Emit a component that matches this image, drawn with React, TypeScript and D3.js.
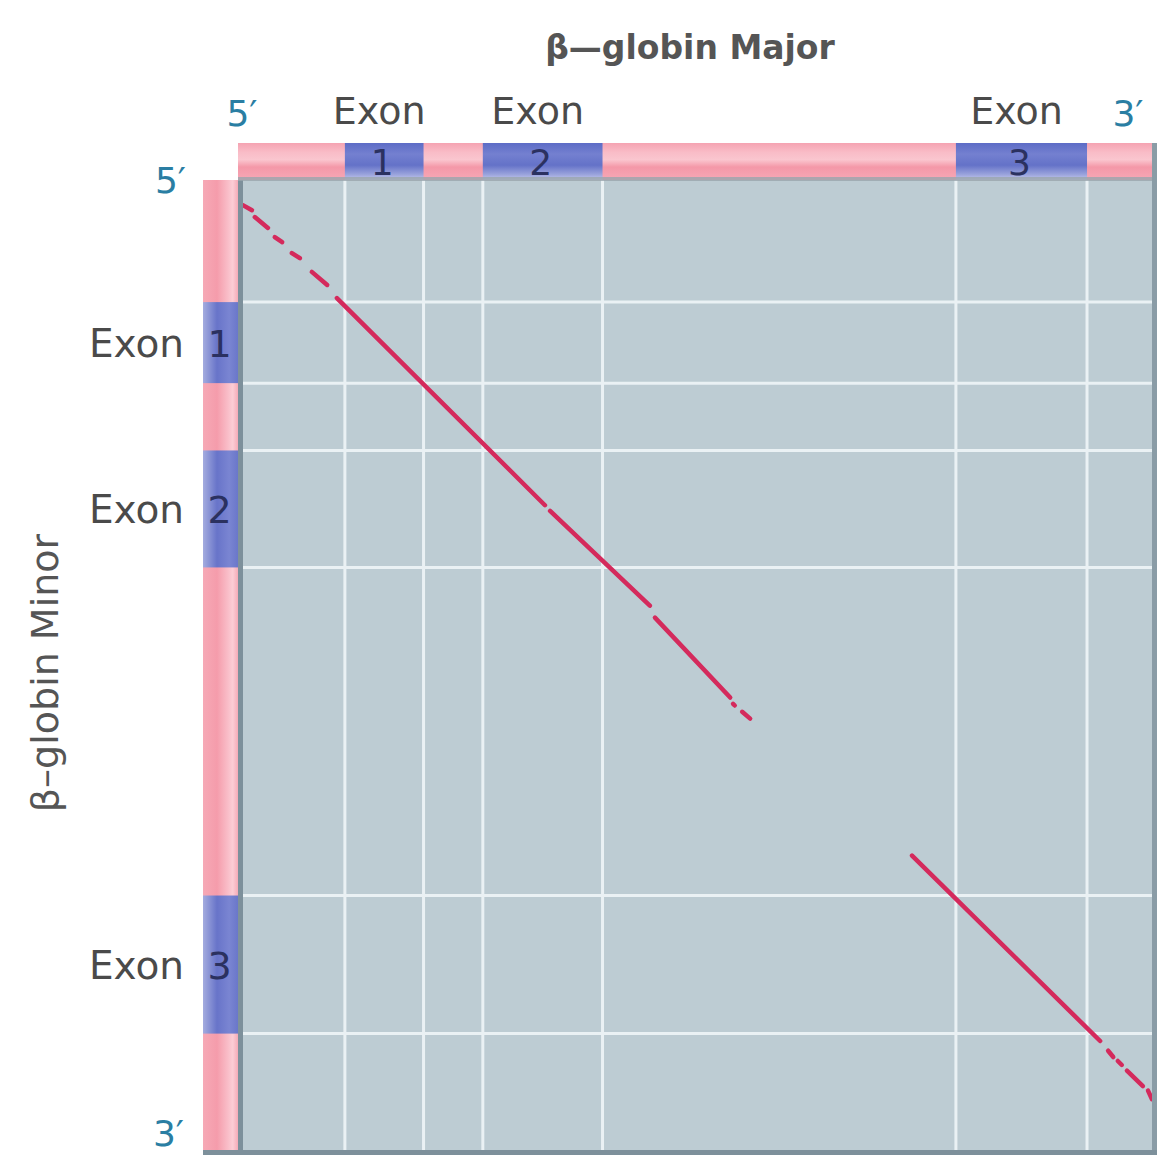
import React, { useRef, useEffect } from 'react';
import * as d3 from 'd3';

// sequence lengths (bp) of the two genes
const majorLength = 1600;
const minorLength = 1700;

// exon positions along each gene [start, end]
const majorExons: [number, number][] = [[184, 322], [426, 636], [1256, 1486]];
const minorExons: [number, number][] = [[214, 356], [474, 679], [1254, 1496]];
const exonNames = ['1', '2', '3'];

// matching stretches of the dot plot: [majorStart, minorStart, majorEnd, minorEnd]
const matches: [number, number, number, number][] = [
  [5, 44, 21, 53],
  [26, 65, 49, 84],
  [61, 100, 74, 109],
  [91, 128, 105, 137],
  [126, 161, 153, 184],
  [170, 207, 535, 570],
  [544, 580, 719, 746],
  [728, 767, 860, 907],
  [865, 918, 868, 921],
  [881, 932, 895, 944],
  [1179, 1184, 1509, 1509],
  [1523, 1526, 1532, 1537],
  [1540, 1544, 1547, 1551],
  [1556, 1561, 1584, 1588],
  [1593, 1596, 1600, 1611],
];

const App: React.FC = () => {
  const svgRef = useRef<SVGSVGElement>(null);
  const width = 1170;
  const height = 1155;

  useEffect(() => {
    document.body.style.margin = '0';
    if (!svgRef.current) return;
    const svg = d3.select(svgRef.current);
    svg.selectAll('*').remove();

    const plot = { left: 240, right: 1152, top: 180, bottom: 1150 };
    const font = '"DejaVu Sans", sans-serif';

    const x = d3.scaleLinear().domain([0, majorLength]).range([plot.left, plot.right]);
    const y = d3.scaleLinear().domain([0, minorLength]).range([plot.top, plot.bottom]);

    const defs = svg.append('defs');
    const grad = (id: string, horizontal: boolean, stops: [string, string][]) => {
      const g = defs.append('linearGradient').attr('id', id)
        .attr('x1', 0).attr('y1', 0)
        .attr('x2', horizontal ? 1 : 0).attr('y2', horizontal ? 0 : 1);
      stops.forEach(([o, c]) => g.append('stop').attr('offset', o).attr('stop-color', c));
    };
    grad('pinkV', false, [['0%', '#f5a3b2'], ['25%', '#f9bcc7'], ['45%', '#fac6cf'], ['65%', '#f498a8'], ['100%', '#f6a8b6']]);
    grad('blueV', false, [['0%', '#5d6cc6'], ['30%', '#7480d0'], ['60%', '#6472c8'], ['85%', '#9aa3dc'], ['100%', '#c4c9ec']]);
    grad('pinkH', true, [['0%', '#f6a9b6'], ['40%', '#f59cab'], ['70%', '#f9bcc7'], ['85%', '#fccdd5'], ['100%', '#f5aab7']]);
    grad('blueH', true, [['0%', '#a4acdf'], ['40%', '#6874c9'], ['75%', '#7a85d2'], ['100%', '#6a77ca']]);

    // plot background
    svg.append('rect')
      .attr('x', plot.left).attr('y', plot.top)
      .attr('width', plot.right - plot.left).attr('height', plot.bottom - plot.top)
      .attr('fill', '#bdccd3');

    // grid lines at exon boundaries
    majorExons.flat().forEach(v => {
      svg.append('line')
        .attr('x1', x(v)).attr('x2', x(v))
        .attr('y1', plot.top).attr('y2', plot.bottom)
        .attr('stroke', '#eaf1f4').attr('stroke-width', 3);
    });
    minorExons.flat().forEach(v => {
      svg.append('line')
        .attr('x1', plot.left).attr('x2', plot.right)
        .attr('y1', y(v)).attr('y2', y(v))
        .attr('stroke', '#eaf1f4').attr('stroke-width', 3);
    });

    // dot plot matches
    svg.append('g').selectAll('line')
      .data(matches)
      .enter()
      .append('line')
      .attr('x1', d => x(d[0])).attr('y1', d => y(d[1]))
      .attr('x2', d => x(d[2])).attr('y2', d => y(d[3]))
      .attr('stroke', '#d42a5c')
      .attr('stroke-width', 4.5)
      .attr('stroke-linecap', 'round');

    // frame
    svg.append('rect').attr('x', plot.left - 2).attr('y', plot.top)
      .attr('width', 5).attr('height', plot.bottom - plot.top + 5).attr('fill', '#7d909b');
    svg.append('rect').attr('x', plot.right).attr('y', 143)
      .attr('width', 5).attr('height', plot.bottom - 143 + 5).attr('fill', '#8a9ca6');
    svg.append('rect').attr('x', 203).attr('y', plot.bottom)
      .attr('width', plot.right + 5 - 203).attr('height', 5).attr('fill', '#7d909b');

    // top gene bar
    const topBar = { y0: 143, y1: 180 };
    svg.append('rect').attr('x', 238).attr('y', topBar.y0)
      .attr('width', plot.right - 238).attr('height', topBar.y1 - topBar.y0)
      .attr('fill', 'url(#pinkV)');
    majorExons.forEach(([s, e], i) => {
      svg.append('rect').attr('x', x(s)).attr('y', topBar.y0)
        .attr('width', x(e) - x(s)).attr('height', topBar.y1 - topBar.y0)
        .attr('fill', 'url(#blueV)');
      svg.append('text')
        .attr('x', x((s + e) / 2) - 2).attr('y', topBar.y0 + 32)
        .attr('text-anchor', 'middle')
        .style('font-family', font).style('font-size', '36px')
        .style('fill', '#2b3160')
        .text(exonNames[i]);
      svg.append('text')
        .attr('x', x((s + e) / 2) - 5).attr('y', 124)
        .attr('text-anchor', 'middle')
        .style('font-family', font).style('font-size', '38px')
        .style('fill', '#4a4a4a')
        .text('Exon');
    });
    svg.append('rect').attr('x', 238).attr('y', topBar.y1 - 3)
      .attr('width', plot.right - 238).attr('height', 4).attr('fill', '#9aa5ad').attr('opacity', 0.8);

    // left gene bar
    const leftBar = { x0: 203, x1: 238 };
    svg.append('rect').attr('x', leftBar.x0).attr('y', plot.top)
      .attr('width', leftBar.x1 - leftBar.x0).attr('height', plot.bottom - plot.top)
      .attr('fill', 'url(#pinkH)');
    minorExons.forEach(([s, e], i) => {
      svg.append('rect').attr('x', leftBar.x0).attr('y', y(s))
        .attr('width', leftBar.x1 - leftBar.x0).attr('height', y(e) - y(s))
        .attr('fill', 'url(#blueH)');
      svg.append('text')
        .attr('x', (leftBar.x0 + leftBar.x1) / 2 - 1).attr('y', y((s + e) / 2) + 14)
        .attr('text-anchor', 'middle')
        .style('font-family', font).style('font-size', '38px')
        .style('fill', '#2b3160')
        .text(exonNames[i]);
      svg.append('text')
        .attr('x', 184).attr('y', y((s + e) / 2) + 14)
        .attr('text-anchor', 'end')
        .style('font-family', font).style('font-size', '39px')
        .style('fill', '#4a4a4a')
        .text('Exon');
    });

    // strand ends
    const ends = [
      { t: '5\u2032', x: 242, y: 126, a: 'middle' },
      { t: '3\u2032', x: 1128, y: 126, a: 'middle' },
      { t: '5\u2032', x: 186, y: 193, a: 'end' },
      { t: '3\u2032', x: 184, y: 1146, a: 'end' },
    ];
    ends.forEach(d => {
      svg.append('text')
        .attr('x', d.x).attr('y', d.y)
        .attr('text-anchor', d.a)
        .style('font-family', font).style('font-size', '36px')
        .style('fill', '#2a7ea3')
        .text(d.t);
    });

    // titles
    svg.append('text')
      .attr('x', 690).attr('y', 59)
      .attr('text-anchor', 'middle')
      .style('font-family', font).style('font-size', '33px').style('font-weight', 'bold')
      .style('fill', '#555')
      .text('\u03b2\u2014globin Major');

    svg.append('text')
      .attr('transform', 'translate(58, 673) rotate(-90)')
      .attr('text-anchor', 'middle')
      .style('font-family', font).style('font-size', '38px')
      .style('fill', '#555')
      .text('\u03b2\u2013globin Minor');
  }, []);

  return (
    <svg ref={svgRef} width={width} height={height} style={{ display: 'block', background: '#fff' }} />
  );
};

export default App;
